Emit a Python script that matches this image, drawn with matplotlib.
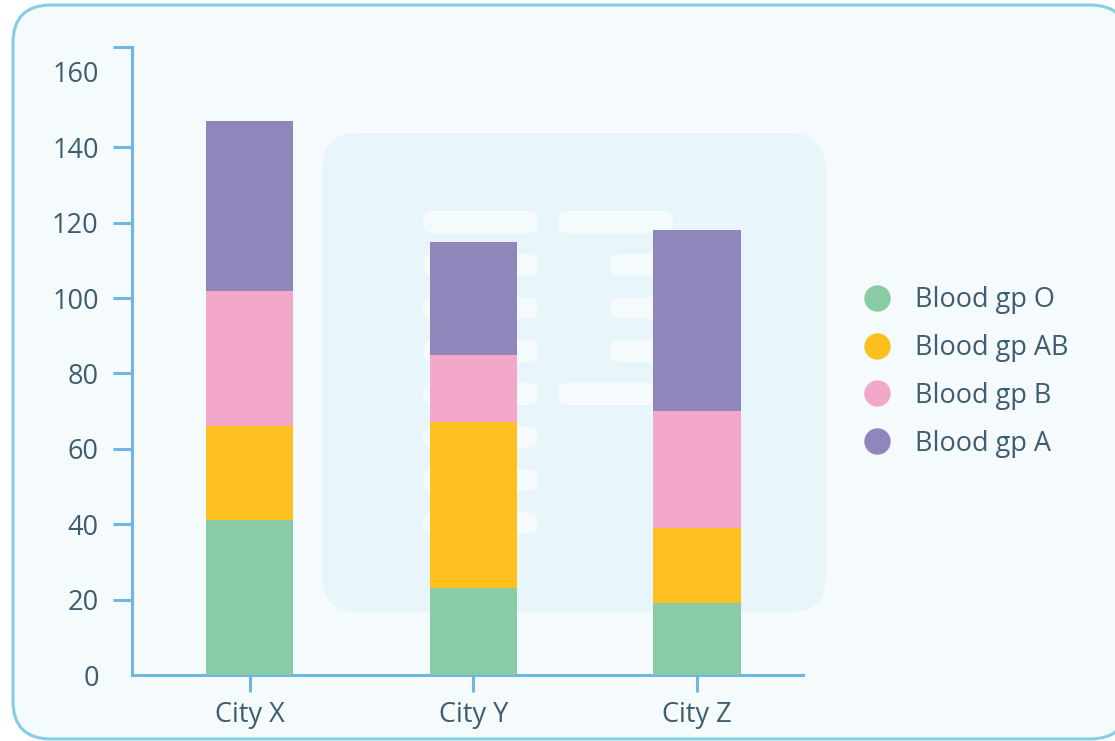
import numpy as np
import matplotlib.pyplot as plt
from matplotlib.patches import FancyBboxPatch
from matplotlib.lines import Line2D
from matplotlib.transforms import IdentityTransform

plt.rcParams['font.family'] = ['Open Sans', 'DejaVu Sans']

cities = ['City X', 'City Y', 'City Z']
groups = ['Blood gp O', 'Blood gp AB', 'Blood gp B', 'Blood gp A']
gp_o = [41, 23, 19]
gp_ab = [25, 44, 20]
gp_b = [36, 18, 31]
gp_a = [45, 30, 48]
colors = ['#88cba4', '#fec01f', '#f3a7c9', '#8f87bb']
yticks = [0, 20, 40, 60, 80, 100, 120, 140, 160]

W, H = 1115, 741
fig = plt.figure(figsize=(W / 100, H / 100), dpi=100)
fig.patch.set_facecolor('white')

def px_box(x0, y0, x1, y1, r, z, **kw):
    # pixel box given with top-left origin
    p = FancyBboxPatch((x0, H - y1), x1 - x0, y1 - y0,
                       boxstyle='round,pad=0,rounding_size=%g' % r,
                       transform=IdentityTransform(), zorder=z, **kw)
    fig.patches.append(p)
    return p

# outer panel
px_box(13, 5, 1128, 739, 38, -3, facecolor='#f5fafd', edgecolor='#85cde4', linewidth=2.2)
# decorative card behind chart
px_box(322, 133, 826, 612, 36, -2, facecolor='#e8f6fc', edgecolor='none')
pill = dict(facecolor='#f5fafd', edgecolor='none')
px_box(423, 211, 538, 233, 10, -1, **pill)
px_box(558, 211, 673, 233, 10, -1, **pill)
for yc in [265, 308, 351, 394, 437, 480, 523]:
    px_box(423, yc - 11, 538, yc + 11, 10, -1, **pill)
for yc in [265, 308, 351]:
    px_box(610, yc - 11, 673, yc + 11, 10, -1, **pill)
px_box(558, 383, 673, 405, 10, -1, **pill)

ax = fig.add_axes([132 / W, 1 - 675 / H, (803 - 132) / W, (675 - 47) / H])
ax.patch.set_alpha(0)

x = np.arange(len(cities))
bottom = np.zeros(len(cities))
for vals, c, lab in zip([gp_o, gp_ab, gp_b, gp_a], colors, groups):
    ax.bar(x, vals, width=0.39, bottom=bottom, color=c, label=lab, zorder=3)
    bottom += np.array(vals)

ax.set_xlim(-0.525, 2.473)
ax.set_ylim(0, 166.6)
ax.set_yticks(yticks)
# tick marks only between the ends, plus a cap at the top of the axis
ax.yaxis.remove_overlapping_locs = False
ax.set_yticks(yticks[1:-1] + [166.6], minor=True)
ax.set_xticks(x)
ax.set_xticklabels(cities)

axis_col = '#6db7e2'
text_col = '#3e5d70'
for s in ['top', 'right']:
    ax.spines[s].set_visible(False)
for s in ['left', 'bottom']:
    ax.spines[s].set_color(axis_col)
    ax.spines[s].set_linewidth(2.2)
ax.tick_params(axis='y', which='major', length=0, labelsize=19.5,
               labelcolor=text_col, pad=24)
ax.tick_params(axis='y', which='minor', length=13.5, width=2.2, color=axis_col)
ax.tick_params(axis='x', length=12, width=2.2, color=axis_col,
               labelsize=19.5, labelcolor=text_col, pad=7)

handles = [Line2D([], [], marker='o', linestyle='none', markersize=19,
                  markerfacecolor=c, markeredgecolor='none') for c in colors]
fig.legend(handles, groups, loc='center left', bbox_to_anchor=(839 / W, 1 - 372 / H),
           frameon=False, fontsize=19.5, labelcolor=text_col, handletextpad=0.4,
           labelspacing=0.73, borderaxespad=0)

fig.savefig('out.png', dpi=100)
